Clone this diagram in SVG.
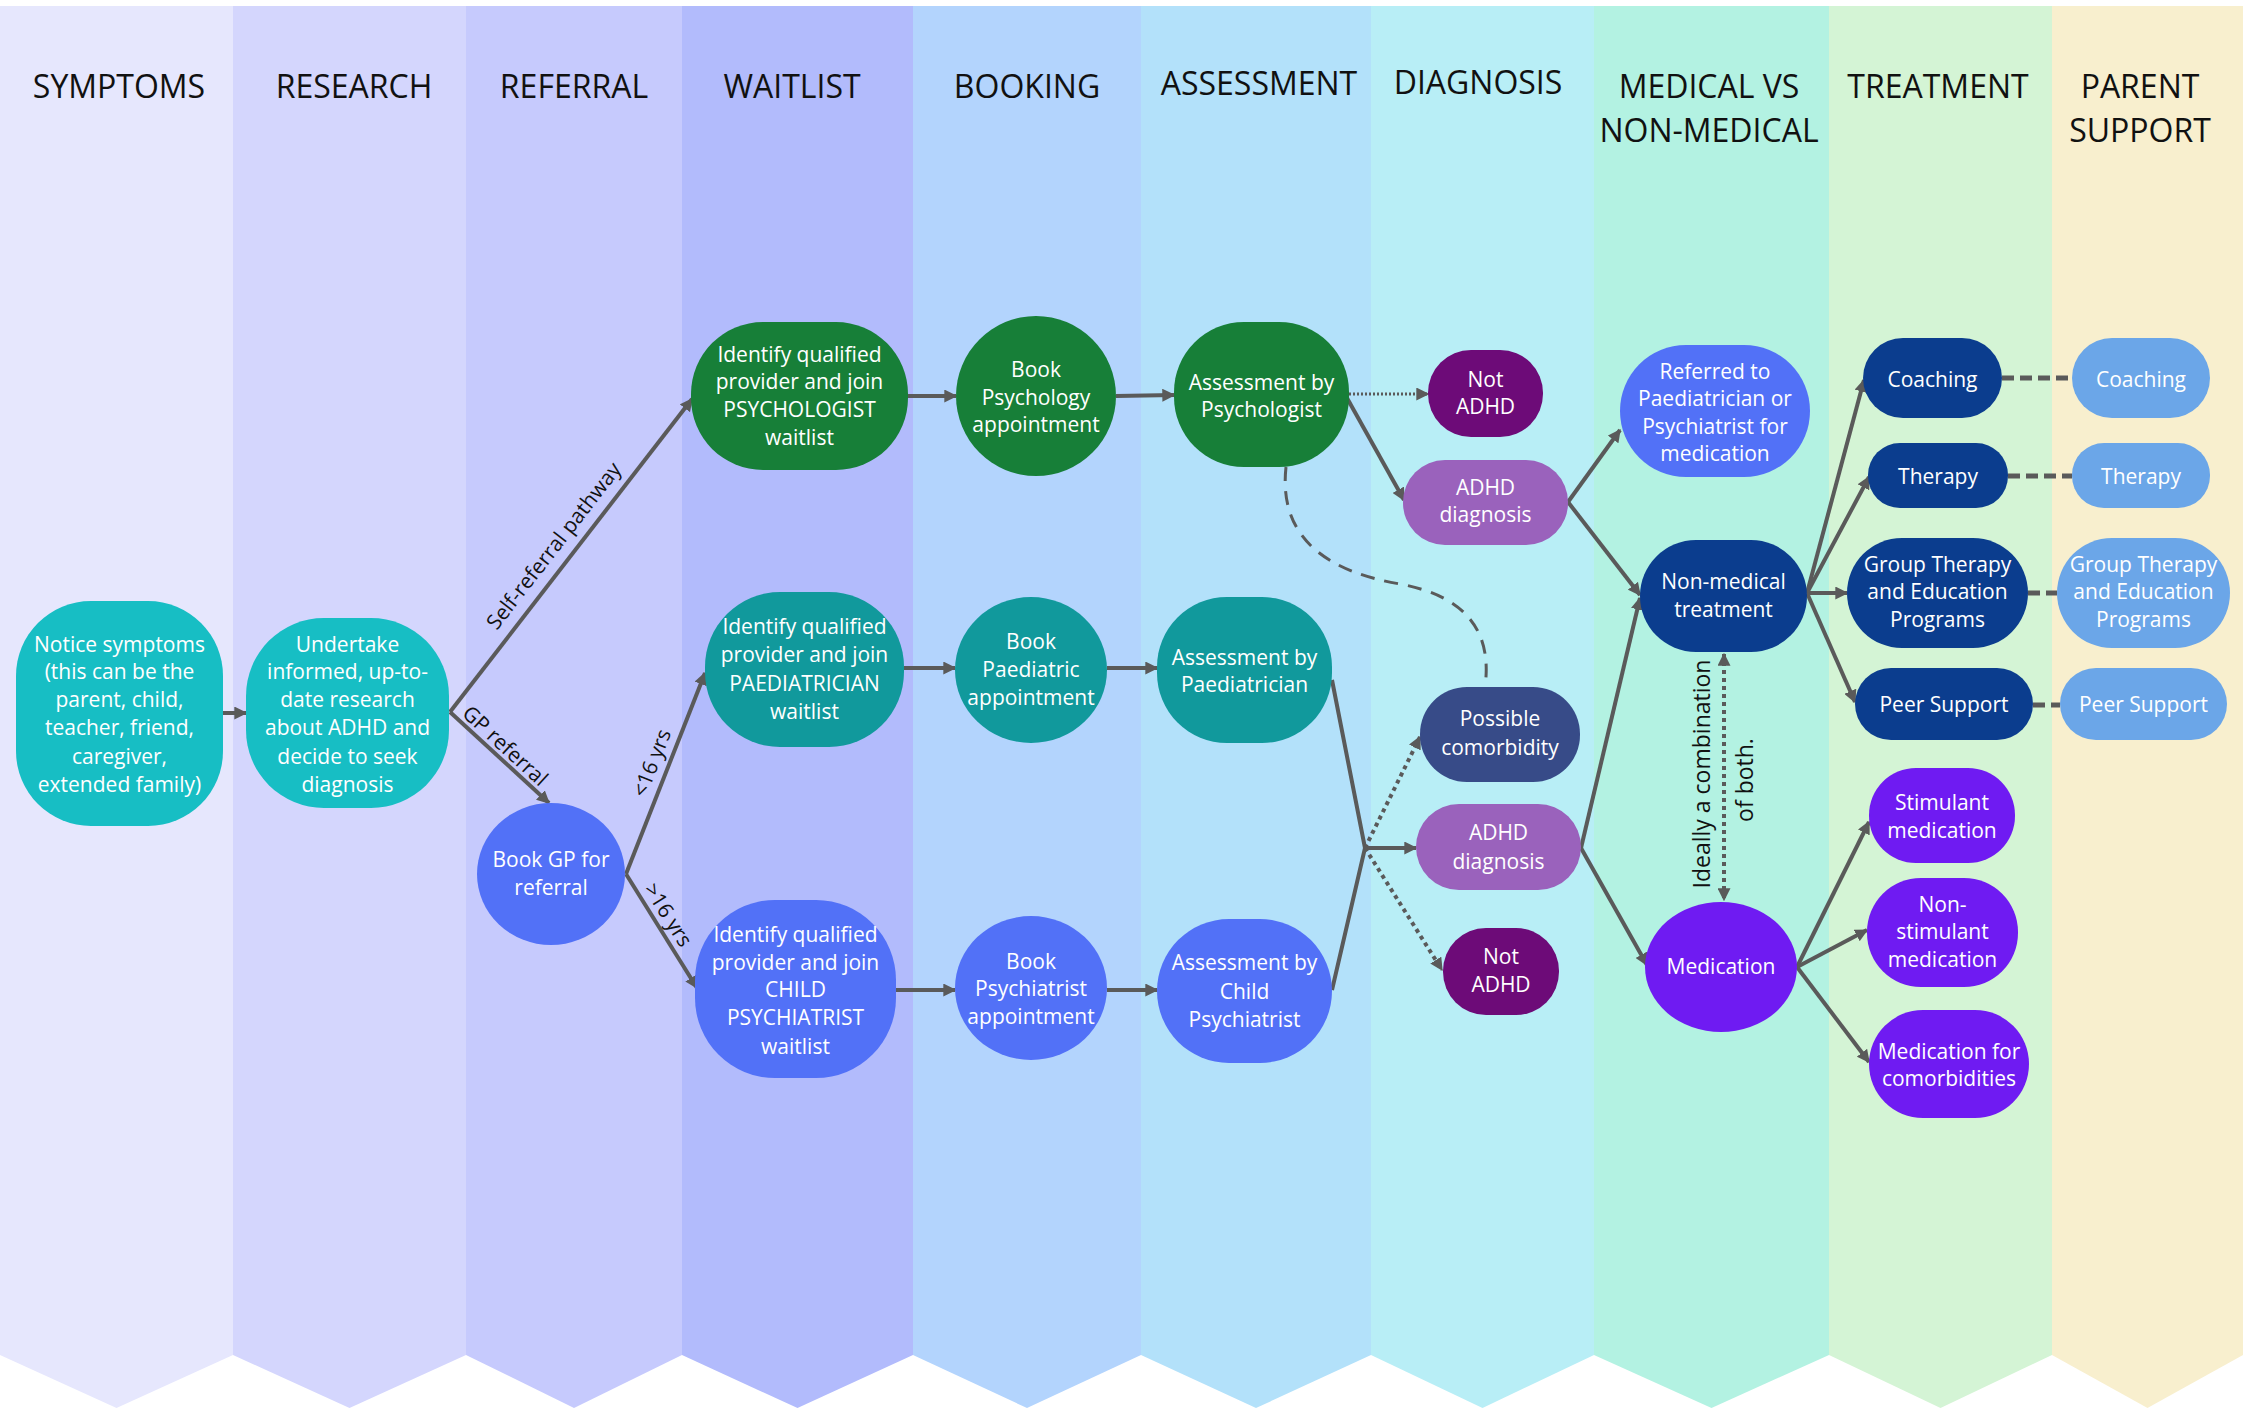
<svg xmlns="http://www.w3.org/2000/svg" width="2246" height="1409" viewBox="0 0 2246 1409">
<style>
.hd{font-family:"Open Sans","Noto Sans",sans-serif;font-size:32px;fill:#111;text-anchor:middle}
.nt{font-family:"Open Sans","Noto Sans",sans-serif;font-size:21px;fill:#fff;text-anchor:middle}
.lb{font-family:"Open Sans","Noto Sans",sans-serif;font-size:21px;fill:#111;text-anchor:middle}
.vt{font-family:"Open Sans","Noto Sans",sans-serif;font-size:23px;fill:#111;text-anchor:middle}
.c{fill:none;stroke:#5a5a5a;stroke-width:4}
.arr{marker-end:url(#ah)}
.dot{stroke-dasharray:4 4}
.dotthin{stroke-width:3;stroke-dasharray:2 2}
.dash{stroke-width:3;stroke-dasharray:14 10}
.pair{stroke-width:5;stroke-dasharray:12 6}
.teal{fill:#17BEC4}.green{fill:#177F38}.teal2{fill:#11999C}.blue{fill:#5271F7}
.notadhd{fill:#6D0B78}.adhd{fill:#9A62BC}.slate{fill:#374B88}.navy{fill:#0B3D8E}
.violet{fill:#6F1BF2}.lblue{fill:#6BA6E8}
</style>
<defs>
<marker id="ah" viewBox="0 0 10 10" refX="9" refY="5" markerWidth="13" markerHeight="13" markerUnits="userSpaceOnUse" orient="auto-start-reverse"><path d="M0,0 L10,5 L0,10 z" fill="#5a5a5a"/></marker>
</defs>
<rect width="2246" height="1409" fill="#fff"/>
<g id="columns">
<path d="M0,6 H233 V1355 L116.5,1408 L0,1355 Z" fill="#E6E7FD"/>
<path d="M233,6 H466 V1355 L349.5,1408 L233,1355 Z" fill="#D4D6FD"/>
<path d="M466,6 H682 V1355 L574,1408 L466,1355 Z" fill="#C6CAFD"/>
<path d="M682,6 H913 V1355 L797.5,1408 L682,1355 Z" fill="#B2BBFC"/>
<path d="M913,6 H1141 V1355 L1027,1408 L913,1355 Z" fill="#B3D4FD"/>
<path d="M1141,6 H1371 V1355 L1256,1408 L1141,1355 Z" fill="#B3E1FA"/>
<path d="M1371,6 H1594 V1355 L1482.5,1408 L1371,1355 Z" fill="#B8EEF6"/>
<path d="M1594,6 H1829 V1355 L1711.5,1408 L1594,1355 Z" fill="#B3F2E2"/>
<path d="M1829,6 H2052 V1355 L1940.5,1408 L1829,1355 Z" fill="#D4F4D5"/>
<path d="M2052,6 H2243 V1355 L2147.5,1408 L2052,1355 Z" fill="#F8EFCE"/>
<text class="hd" x="119" y="98">SYMPTOMS</text>
<text class="hd" x="354" y="98">RESEARCH</text>
<text class="hd" x="574" y="98">REFERRAL</text>
<text class="hd" x="792" y="98">WAITLIST</text>
<text class="hd" x="1027" y="98">BOOKING</text>
<text class="hd" x="1259" y="95">ASSESSMENT</text>
<text class="hd" x="1478" y="94">DIAGNOSIS</text>
<text class="hd" x="1709" y="98">MEDICAL VS</text>
<text class="hd" x="1709" y="142">NON-MEDICAL</text>
<text class="hd" x="1938" y="98">TREATMENT</text>
<text class="hd" x="2140" y="98">PARENT</text>
<text class="hd" x="2140" y="142">SUPPORT</text>
</g>
<g id="connectors">
<path class="c arr" d="M223,713 L246,713"/>
<path class="c arr" d="M450,712 L692,399"/>
<path class="c arr" d="M450,712 L549,803"/>
<path class="c arr" d="M626,874 L705,673"/>
<path class="c arr" d="M626,874 L697,988"/>
<path class="c arr" d="M908,396 L956,396"/>
<path class="c arr" d="M1116,396 L1174,395"/>
<path class="c arr" d="M904,668 L955,668"/>
<path class="c arr" d="M1107,668 L1157,668"/>
<path class="c arr" d="M896,990 L955,990"/>
<path class="c arr" d="M1107,990 L1157,990"/>
<path class="c dotthin arr" d="M1349,394 L1428,394"/>
<path class="c arr" d="M1347,398 L1404,500"/>
<path class="c dash" d="M1286,467 C1278,540 1330,572 1400,584 C1470,597 1492,635 1485,687"/>
<path class="c" d="M1332,680 L1365,848 L1332,990"/>
<path class="c arr" d="M1365,848 L1416,848"/>
<path class="c dot arr" d="M1365,848 L1420,737"/>
<path class="c dot arr" d="M1365,848 L1442,970"/>
<path class="c arr" d="M1568,502 L1620,430"/>
<path class="c arr" d="M1568,502 L1640,595"/>
<path class="c arr" d="M1581,848 L1640,598"/>
<path class="c arr" d="M1581,848 L1647,965"/>
<path class="c dot arr" style="marker-start:url(#ah)" d="M1724,654 L1724,900"/>
<path class="c arr" d="M1807,593 L1864,380"/>
<path class="c arr" d="M1807,593 L1869,477"/>
<path class="c arr" d="M1807,593 L1847,593"/>
<path class="c arr" d="M1807,593 L1855,702"/>
<path class="c arr" d="M1797,967 L1869,822"/>
<path class="c arr" d="M1797,967 L1867,930"/>
<path class="c arr" d="M1797,967 L1869,1062"/>
<path class="c pair" d="M2002,378 L2072,378"/>
<path class="c pair" d="M2008,476 L2072,476"/>
<path class="c pair" d="M2028,593 L2057,593"/>
<path class="c pair" d="M2033,705 L2060,705"/>
<text class="lb" transform="translate(554,546) rotate(-52.2)" y="7">Self-referral pathway</text>
<text class="lb" transform="translate(505,746) rotate(42.6)" y="7">GP referral</text>
<text class="lb" transform="translate(652,763) rotate(-68.5)" y="7">&lt;16 yrs</text>
<text class="lb" transform="translate(668,915) rotate(57.7)" y="7">&gt;16 yrs</text>
<text class="vt" transform="translate(1710,774) rotate(-90)">Ideally a combination</text>
<text class="vt" transform="translate(1753,780) rotate(-90)">of both.</text>
</g>
<g id="n-notice"><rect class="teal" x="16" y="601" width="207" height="225" rx="75"/>
<text class="nt"><tspan x="119.5" y="652">Notice symptoms</tspan><tspan x="119.5" y="679">(this can be the</tspan><tspan x="119.5" y="707">parent, child,</tspan><tspan x="119.5" y="735">teacher, friend,</tspan><tspan x="119.5" y="764">caregiver,</tspan><tspan x="119.5" y="792">extended family)</tspan></text></g>
<g id="n-research"><rect class="teal" x="246" y="618" width="203" height="190" rx="78"/>
<text class="nt"><tspan x="347.5" y="652">Undertake</tspan><tspan x="347.5" y="679">informed, up-to-</tspan><tspan x="347.5" y="707">date research</tspan><tspan x="347.5" y="735">about ADHD and</tspan><tspan x="347.5" y="764">decide to seek</tspan><tspan x="347.5" y="792">diagnosis</tspan></text></g>
<g id="n-gp"><ellipse class="blue" cx="551" cy="874" rx="74" ry="71"/>
<text class="nt"><tspan x="551" y="867">Book GP for</tspan><tspan x="551" y="895">referral</tspan></text></g>
<g id="n-wl-psych"><rect class="green" x="691" y="322" width="217" height="148" rx="72"/>
<text class="nt"><tspan x="799.5" y="362">Identify qualified</tspan><tspan x="799.5" y="389">provider and join</tspan><tspan x="799.5" y="417">PSYCHOLOGIST</tspan><tspan x="799.5" y="445">waitlist</tspan></text></g>
<g id="n-book-psych"><ellipse class="green" cx="1036" cy="396" rx="80" ry="80"/>
<text class="nt"><tspan x="1036" y="377">Book</tspan><tspan x="1036" y="405">Psychology</tspan><tspan x="1036" y="432">appointment</tspan></text></g>
<g id="n-assess-psych"><rect class="green" x="1174" y="322" width="175" height="145" rx="70"/>
<text class="nt"><tspan x="1261.5" y="390">Assessment by</tspan><tspan x="1261.5" y="417">Psychologist</tspan></text></g>
<g id="n-wl-paed"><rect class="teal2" x="705" y="592" width="199" height="155" rx="75"/>
<text class="nt"><tspan x="804.5" y="634">Identify qualified</tspan><tspan x="804.5" y="662">provider and join</tspan><tspan x="804.5" y="691">PAEDIATRICIAN</tspan><tspan x="804.5" y="719">waitlist</tspan></text></g>
<g id="n-book-paed"><ellipse class="teal2" cx="1031" cy="670" rx="76" ry="73"/>
<text class="nt"><tspan x="1031" y="649">Book</tspan><tspan x="1031" y="677">Paediatric</tspan><tspan x="1031" y="705">appointment</tspan></text></g>
<g id="n-assess-paed"><rect class="teal2" x="1157" y="597" width="175" height="146" rx="70"/>
<text class="nt"><tspan x="1244.5" y="665">Assessment by</tspan><tspan x="1244.5" y="692">Paediatrician</tspan></text></g>
<g id="n-wl-child"><rect class="blue" x="695" y="900" width="201" height="178" rx="80"/>
<text class="nt"><tspan x="795.5" y="942">Identify qualified</tspan><tspan x="795.5" y="970">provider and join</tspan><tspan x="795.5" y="997">CHILD</tspan><tspan x="795.5" y="1025">PSYCHIATRIST</tspan><tspan x="795.5" y="1054">waitlist</tspan></text></g>
<g id="n-book-child"><ellipse class="blue" cx="1031" cy="988" rx="76" ry="72"/>
<text class="nt"><tspan x="1031" y="969">Book</tspan><tspan x="1031" y="996">Psychiatrist</tspan><tspan x="1031" y="1024">appointment</tspan></text></g>
<g id="n-assess-child"><rect class="blue" x="1157" y="919" width="175" height="144" rx="72"/>
<text class="nt"><tspan x="1244.5" y="970">Assessment by</tspan><tspan x="1244.5" y="999">Child</tspan><tspan x="1244.5" y="1027">Psychiatrist</tspan></text></g>
<g id="n-notadhd1"><rect class="notadhd" x="1428" y="350" width="115" height="87" rx="43"/>
<text class="nt"><tspan x="1485.5" y="387">Not</tspan><tspan x="1485.5" y="414">ADHD</tspan></text></g>
<g id="n-adhd1"><rect class="adhd" x="1403" y="460" width="165" height="85" rx="42"/>
<text class="nt"><tspan x="1485.5" y="495">ADHD</tspan><tspan x="1485.5" y="522">diagnosis</tspan></text></g>
<g id="n-comorb"><rect class="slate" x="1420" y="687" width="160" height="95" rx="47"/>
<text class="nt"><tspan x="1500" y="726">Possible</tspan><tspan x="1500" y="755">comorbidity</tspan></text></g>
<g id="n-adhd2"><rect class="adhd" x="1416" y="804" width="165" height="86" rx="43"/>
<text class="nt"><tspan x="1498.5" y="840">ADHD</tspan><tspan x="1498.5" y="869">diagnosis</tspan></text></g>
<g id="n-notadhd2"><rect class="notadhd" x="1443" y="928" width="116" height="87" rx="43"/>
<text class="nt"><tspan x="1501" y="964">Not</tspan><tspan x="1501" y="992">ADHD</tspan></text></g>
<g id="n-referred"><rect class="blue" x="1620" y="345" width="190" height="132" rx="66"/>
<text class="nt"><tspan x="1715" y="379">Referred to</tspan><tspan x="1715" y="406">Paediatrician or</tspan><tspan x="1715" y="434">Psychiatrist for</tspan><tspan x="1715" y="461">medication</tspan></text></g>
<g id="n-nonmed"><rect class="navy" x="1640" y="540" width="167" height="112" rx="56"/>
<text class="nt"><tspan x="1723.5" y="589">Non-medical</tspan><tspan x="1723.5" y="617">treatment</tspan></text></g>
<g id="n-medication"><ellipse class="violet" cx="1721" cy="967" rx="76" ry="65"/>
<text class="nt"><tspan x="1721" y="974">Medication</tspan></text></g>
<g id="n-stim"><rect class="violet" x="1869" y="768" width="146" height="95" rx="47"/>
<text class="nt"><tspan x="1942" y="810">Stimulant</tspan><tspan x="1942" y="838">medication</tspan></text></g>
<g id="n-nonstim"><rect class="violet" x="1867" y="878" width="151" height="109" rx="54"/>
<text class="nt"><tspan x="1942.5" y="912">Non-</tspan><tspan x="1942.5" y="939">stimulant</tspan><tspan x="1942.5" y="967">medication</tspan></text></g>
<g id="n-medcomorb"><rect class="violet" x="1869" y="1010" width="160" height="108" rx="54"/>
<text class="nt"><tspan x="1949" y="1059">Medication for</tspan><tspan x="1949" y="1086">comorbidities</tspan></text></g>
<g id="n-t-coach"><rect class="navy" x="1863" y="338" width="139" height="80" rx="40"/>
<text class="nt"><tspan x="1932.5" y="387">Coaching</tspan></text></g>
<g id="n-t-therapy"><rect class="navy" x="1868" y="443" width="140" height="65" rx="32"/>
<text class="nt"><tspan x="1938" y="484">Therapy</tspan></text></g>
<g id="n-t-group"><rect class="navy" x="1847" y="538" width="181" height="110" rx="55"/>
<text class="nt"><tspan x="1937.5" y="572">Group Therapy</tspan><tspan x="1937.5" y="599">and Education</tspan><tspan x="1937.5" y="627">Programs</tspan></text></g>
<g id="n-t-peer"><rect class="navy" x="1855" y="668" width="178" height="72" rx="36"/>
<text class="nt"><tspan x="1944" y="712">Peer Support</tspan></text></g>
<g id="n-p-coach"><rect class="lblue" x="2072" y="338" width="138" height="80" rx="40"/>
<text class="nt"><tspan x="2141" y="387">Coaching</tspan></text></g>
<g id="n-p-therapy"><rect class="lblue" x="2072" y="443" width="138" height="65" rx="32"/>
<text class="nt"><tspan x="2141" y="484">Therapy</tspan></text></g>
<g id="n-p-group"><rect class="lblue" x="2057" y="538" width="173" height="110" rx="55"/>
<text class="nt"><tspan x="2143.5" y="572">Group Therapy</tspan><tspan x="2143.5" y="599">and Education</tspan><tspan x="2143.5" y="627">Programs</tspan></text></g>
<g id="n-p-peer"><rect class="lblue" x="2060" y="668" width="167" height="72" rx="36"/>
<text class="nt"><tspan x="2143.5" y="712">Peer Support</tspan></text></g>
</svg>
